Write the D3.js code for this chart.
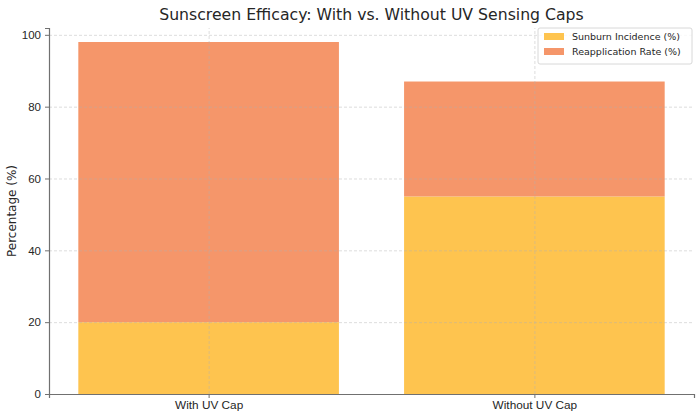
<!DOCTYPE html>
<html>
<head>
<meta charset="utf-8">
<script src="https://cdn.jsdelivr.net/npm/d3@7"></script>
<style>
  body { margin: 0; background: #fff; }
  svg { font-family: "DejaVu Sans", sans-serif; }
  .grid line { stroke: #b0b0b0; stroke-opacity: 0.55; stroke-dasharray: 3,2; stroke-width: 0.8; }
  .grid path { display: none; }
  .axis path, .axis line { stroke: #707070; }
  .axis text { fill: #262626; }
</style>
</head>
<body>
<svg id="chart" width="700" height="417"></svg>
<script>
var categories = ["With UV Cap", "Without UV Cap"];
var sunburn = [20, 55];
var reapplication = [78, 32];
var yTicks = [0, 20, 40, 60, 80, 100];
var seriesNames = ["Sunburn Incidence (%)", "Reapplication Rate (%)"];
var colors = ["#FEC44F", "#F5966A"];

var svg = d3.select("#chart"),
	margin = { top: 28, right: 6, bottom: 23, left: 49 },
	width = +svg.attr("width") - margin.left - margin.right,
	height = +svg.attr("height") - margin.top - margin.bottom,
	g = svg.append("g").attr("transform", "translate(" + margin.left + "," + margin.top + ")");

// numeric x like matplotlib: bars at 0 and 1, width 0.8
var scaleX = d3.scaleLinear().domain([-0.49, categories.length - 1 + 0.49]).range([0, width]);
var scaleY = d3.scaleLinear().domain([0, 101.9]).range([height, 0]);
var barW = scaleX(0.8) - scaleX(0);

var stacked = categories.map(function (c, i) {
	return [
		{ y0: 0, y1: sunburn[i], color: colors[0], i: i },
		{ y0: sunburn[i], y1: sunburn[i] + reapplication[i], color: colors[1], i: i }
	];
});

g.append("g").selectAll("rect")
	.data(d3.merge(stacked))
	.enter().append("rect")
	.attr("x", function (d) { return scaleX(d.i) - barW / 2; })
	.attr("width", barW)
	.attr("y", function (d) { return scaleY(d.y1); })
	.attr("height", function (d) { return scaleY(d.y0) - scaleY(d.y1); })
	.attr("fill", function (d) { return d.color; });

// grid drawn over the bars
g.append("g").attr("class", "grid")
	.call(d3.axisLeft(scaleY).tickValues(yTicks).tickSize(-width).tickFormat(""));
g.append("g").attr("class", "grid")
	.attr("transform", "translate(0," + height + ")")
	.call(d3.axisBottom(scaleX).tickValues(d3.range(categories.length)).tickSize(-height).tickFormat(""));

// axes
var xAxis = g.append("g").attr("class", "axis")
	.attr("transform", "translate(0," + height + ")")
	.call(d3.axisBottom(scaleX).tickValues(d3.range(categories.length))
		.tickFormat(function (d) { return categories[d]; }).tickSize(4).tickPadding(3));
xAxis.selectAll("text").attr("font-size", 11.8);
var yAxis = g.append("g").attr("class", "axis")
	.call(d3.axisLeft(scaleY).tickValues(yTicks).tickSize(4).tickPadding(4));
yAxis.selectAll("text").attr("font-size", 11.5);
g.selectAll(".axis path").attr("stroke-width", 1.2);

g.append("text")
	.attr("transform", "rotate(-90)")
	.attr("x", -height / 2)
	.attr("y", -33)
	.attr("text-anchor", "middle")
	.attr("font-size", 12)
	.attr("fill", "#262626")
	.text("Percentage (%)");

svg.append("text")
	.attr("x", margin.left + width / 2)
	.attr("y", 20)
	.attr("text-anchor", "middle")
	.attr("font-size", 15.7)
	.attr("fill", "#262626")
	.text("Sunscreen Efficacy: With vs. Without UV Sensing Caps");

// legend
var lg = svg.append("g").attr("transform", "translate(538,28)");
lg.append("rect").attr("width", 154).attr("height", 36).attr("rx", 2)
	.attr("fill", "#fff").attr("fill-opacity", 0.8).attr("stroke", "#d8d8d8");
seriesNames.forEach(function (n, i) {
	lg.append("rect").attr("x", 6).attr("y", 5 + i * 15).attr("width", 20).attr("height", 7).attr("fill", colors[i]);
	lg.append("text").attr("x", 34).attr("y", 12 + i * 15).attr("font-size", 9.5).attr("fill", "#262626").text(n);
});
</script>
</body>
</html>
